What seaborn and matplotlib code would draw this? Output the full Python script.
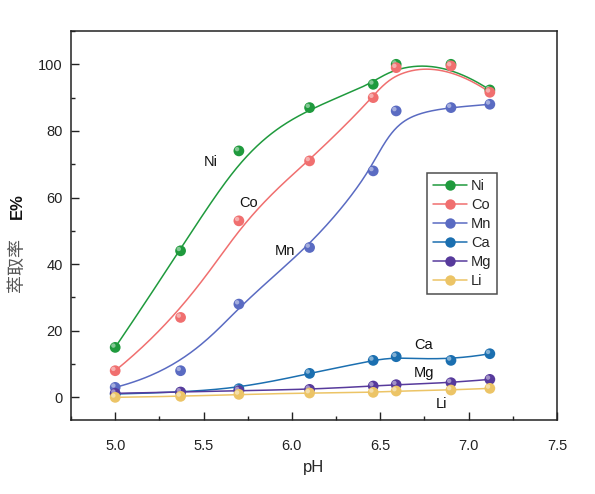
import numpy as np
import pandas as pd
import matplotlib
matplotlib.use("Agg")
import matplotlib.pyplot as plt
import seaborn as sns
from matplotlib.lines import Line2D
from matplotlib.transforms import ScaledTranslation
from matplotlib.ticker import MultipleLocator

# ---- data ----
ph = [5.00, 5.37, 5.70, 6.10, 6.46, 6.59, 6.90, 7.12]
metals = ["Ni", "Co", "Mn", "Ca", "Mg", "Li"]
ni = [15, 44, 74, 87, 94, 100, 100, 92.3]
co = [8, 24, 53, 71, 90, 99, 99.5, 91.6]
mn = [3, 8, 28, 45, 68, 86, 87, 88]
ca = [1.0, 1.5, 2.6, 7.2, 11.1, 12.2, 11.1, 13.1]
mg = [1.2, 1.6, 2.0, 2.4, 3.4, 3.8, 4.4, 5.4]
li = [0.0, 0.3, 0.9, 1.3, 1.5, 1.9, 2.2, 2.7]
series = {"Ni": ni, "Co": co, "Mn": mn, "Ca": ca, "Mg": mg, "Li": li}
colors = {"Ni": "#1f9a3d", "Co": "#f06f6f", "Mn": "#5a6bc2",
          "Ca": "#1b6fb0", "Mg": "#573a9c", "Li": "#ecc466"}
label_pos = {"Ni": (5.54, 70.6), "Co": (5.755, 58.3), "Mn": (5.96, 43.9),
             "Ca": (6.745, 15.7), "Mg": (6.75, 7.4), "Li": (6.845, -2.0)}


def bspline(xs, ys, n=300, k=3):
    P = np.column_stack([xs, ys]).astype(float)
    m = len(P)
    knots = np.concatenate([np.zeros(k), np.arange(m - k + 1), np.full(k, m - k)]).astype(float)
    t = np.linspace(0, m - k, n)
    t[-1] -= 1e-9
    B = np.zeros((n, len(knots) - 1))
    for i in range(len(knots) - 1):
        B[:, i] = (knots[i] <= t) & (t < knots[i + 1])
    for d in range(1, k + 1):
        Bn = np.zeros((n, len(knots) - 1 - d))
        for i in range(len(knots) - 1 - d):
            den1 = knots[i + d] - knots[i]
            den2 = knots[i + d + 1] - knots[i + 1]
            left = (t - knots[i]) / den1 if den1 > 0 else 0.0
            right = (knots[i + d + 1] - t) / den2 if den2 > 0 else 0.0
            Bn[:, i] = left * B[:, i] + right * B[:, i + 1]
        B = Bn
    C = B @ P
    return C[:, 0], C[:, 1]


pts = pd.DataFrame([(m, x, v) for m in metals for x, v in zip(ph, series[m])],
                   columns=["metal", "pH", "E"])
curve_rows = []
for m in metals:
    cx, cy = bspline(ph, series[m])
    for i, (a, b) in enumerate(zip(cx, cy)):
        curve_rows.append((m, i, a, b))
curves = pd.DataFrame(curve_rows, columns=["metal", "idx", "pH", "E"])

sns.set_theme(style="white")
plt.rcParams["font.family"] = ["Liberation Sans", "DejaVu Sans"]

fig = plt.figure(figsize=(5.95, 4.94), dpi=100)
ax = fig.add_axes([71 / 595, 1 - 420 / 494, (557 - 71) / 595, (420 - 31) / 494])

sns.lineplot(data=curves, x="pH", y="E", hue="metal", units="metal", estimator=None,
             sort=False, palette=colors, hue_order=metals, legend=False, lw=1.1, ax=ax)
for m in metals:
    sub = pts[pts.metal == m]
    sns.scatterplot(data=sub, x="pH", y="E", color=colors[m], s=60, edgecolor="none",
                    legend=False, ax=ax, zorder=3)
    sns.scatterplot(data=sub, x="pH", y="E", color="white", s=10, alpha=0.45,
                    edgecolor="none", legend=False, ax=ax, zorder=3)
    coll = ax.collections[-1]
    coll.set_offset_transform(ax.transData + ScaledTranslation(-1.3 / 72, 1.3 / 72, fig.dpi_scale_trans))

for m in metals:
    ax.text(*label_pos[m], m, fontsize=10.5, ha="center", va="center", color="#111111")

ax.set_xlim(4.75, 7.5)
ax.set_ylim(-6.8, 110)
ax.xaxis.set_major_locator(MultipleLocator(0.5))
ax.xaxis.set_minor_locator(MultipleLocator(0.25))
ax.yaxis.set_major_locator(MultipleLocator(20))
ax.yaxis.set_minor_locator(MultipleLocator(10))
ax.tick_params(which="both", direction="in", bottom=True, left=True, top=False, right=False,
               colors="#222222", labelsize=10.5)
ax.tick_params(which="major", length=5.5, width=1)
ax.tick_params(which="minor", length=3, width=1)
ax.tick_params(axis="x", pad=14)
ax.tick_params(axis="y", pad=6)
for sp in ax.spines.values():
    sp.set_color("#222222")
    sp.set_linewidth(1.1)

ax.set_xlabel("pH", fontsize=12, labelpad=5)
ax.set_ylabel("")
fig.text(17 / 595, 1 - 265 / 494, "萃取率", rotation=90, ha="center", va="center",
         fontsize=13, color="#555555", family=["Noto Sans CJK SC", "DejaVu Sans"])
fig.text(17 / 595, 1 - 206 / 494, "E%", rotation=90, ha="center", va="center",
         fontsize=12, fontweight="bold", color="#111111")

handles = [Line2D([0], [0], color=colors[m], lw=1.1, marker="o", markersize=7.5,
                  markeredgecolor="none") for m in metals]
leg = ax.legend(handles, metals, loc="upper left", bbox_to_anchor=(0.733, 0.635),
                borderaxespad=0, frameon=True, fancybox=False, fontsize=10.5,
                handlelength=2.3, handletextpad=0.3, labelspacing=0.35,
                borderpad=0.4)
leg.get_frame().set_edgecolor("#222222")
leg.get_frame().set_linewidth(1.1)

fig.savefig("out.png", dpi=100)
